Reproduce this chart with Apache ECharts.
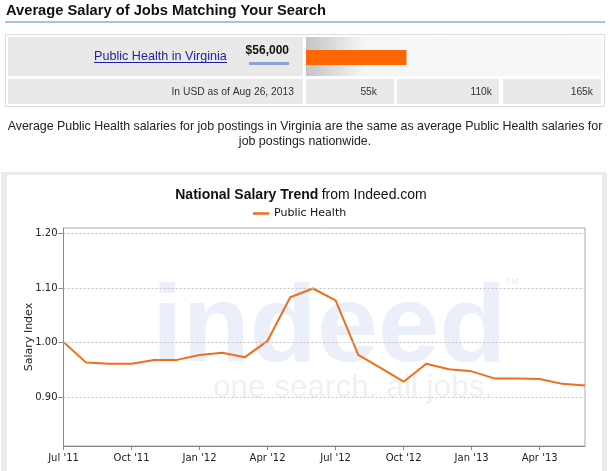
<!DOCTYPE html>
<html>
<head>
<meta charset="utf-8">
<script src="https://cdn.jsdelivr.net/npm/echarts@6/dist/echarts.min.js"></script>
<style>
html,body{margin:0;padding:0;background:#fff;}
#c{width:610px;height:471px;}
</style>
</head>
<body>
<div id="c"></div>
<script>
// ---- data ----
const salaryCategories = ['Public Health in Virginia'];
const salaryValues = [56000];
const salaryLabel = '$56,000';
const salaryScaleMax = 165000;
const salaryScaleLabels = ['55k', '110k', '165k'];
const months = ["Jul '11","Aug '11","Sep '11","Oct '11","Nov '11","Dec '11",
  "Jan '12","Feb '12","Mar '12","Apr '12","May '12","Jun '12",
  "Jul '12","Aug '12","Sep '12","Oct '12","Nov '12","Dec '12",
  "Jan '13","Feb '13","Mar '13","Apr '13","May '13","Jun '13"];
const trendValues = [1.001, 0.963, 0.961, 0.961, 0.968, 0.968,
  0.977, 0.981, 0.973, 1.003, 1.083, 1.099,
  1.077, 0.977, 0.953, 0.928, 0.961, 0.951,
  0.947, 0.934, 0.934, 0.933, 0.924, 0.921];
const yTickValues = [0.9, 1.0, 1.1, 1.2];
const yMin = 0.81, yMax = 1.21;

// ---- chart ----
const chart = echarts.init(document.getElementById('c'), null, {renderer: 'canvas'});
const AR = '"Liberation Sans", Arial, sans-serif';
const DJ = '"DejaVu Sans", sans-serif';
const orange = '#ee6e1b';

const cells = [
  {x: 8, w: 295}, {x: 306, w: 88}, {x: 397, w: 102}, {x: 503, w: 98}
];
const scaleLabelRight = [377, 492, 593];

const graphic = [
  // header title
  {type: 'text', x: 6, y: 11, z: -1, style: {text: 'Average Salary of Jobs Matching Your Search', font: 'bold 14.7px ' + AR, fill: '#111', verticalAlign: 'middle'}},
  {type: 'rect', z: -1, shape: {x: 5, y: 21, width: 600, height: 2}, style: {fill: '#a7c3e1'}},
  // salary box
  {type: 'rect', z: -2, shape: {x: 5.5, y: 34.5, width: 599, height: 72}, style: {fill: '#fff', stroke: '#dcdcdc', lineWidth: 1}},
  {type: 'rect', z: -1, shape: {x: 8, y: 37, width: 295, height: 39}, style: {fill: '#e9e9e9'}},
  {type: 'rect', z: -1, shape: {x: 306, y: 37, width: 296, height: 39}, style: {fill: {type: 'linear', x: 0, y: 0, x2: 1, y2: 0, colorStops: [{offset: 0, color: '#c4c4c4'}, {offset: 0.2, color: '#f6f6f6'}, {offset: 1, color: '#f7f7f7'}]}}},
  {type: 'text', x: 94, y: 56.5, z: 1, style: {text: salaryCategories[0], font: '12.6px ' + AR, fill: '#1f1fa3', verticalAlign: 'middle'}},
  {type: 'rect', z: 1, shape: {x: 94, y: 62, width: 133, height: 1}, style: {fill: '#1f1fa3'}},
  {type: 'text', x: 289, y: 50.5, z: 1, style: {text: salaryLabel, font: 'bold 12px ' + AR, fill: '#111', align: 'right', verticalAlign: 'middle'}},
  {type: 'rect', z: 1, shape: {x: 249, y: 62, width: 40, height: 3}, style: {fill: '#8aa4da'}},
  {type: 'text', x: 294, y: 92, z: 1, style: {text: 'In USD as of Aug 26, 2013', font: '10.3px ' + AR, fill: '#333', align: 'right', verticalAlign: 'middle'}},
  // paragraph
  {type: 'text', x: 305, y: 127, z: 1, style: {text: 'Average Public Health salaries for job postings in Virginia are the same as average Public Health salaries for', font: '12.4px ' + AR, fill: '#222', align: 'center', verticalAlign: 'middle'}},
  {type: 'text', x: 305, y: 142, z: 1, style: {text: 'job postings nationwide.', font: '12.4px ' + AR, fill: '#222', align: 'center', verticalAlign: 'middle'}},
  // chart panel
  {type: 'rect', z: -3, shape: {x: 1, y: 172, width: 606, height: 299}, style: {fill: '#ebebeb'}},
  {type: 'rect', z: -2, shape: {x: 7, y: 175, width: 595, height: 296}, style: {fill: '#fff'}},
  // watermark
  {type: 'text', x: 152, y: 331, z: -1, style: {text: 'indeed', font: 'bold 110px ' + AR, fill: '#ebeffa', verticalAlign: 'middle'}},
  {type: 'text', x: 213, y: 388, z: -1, style: {text: 'one search. all jobs.', font: '31.5px ' + AR, fill: '#f0f0f0', verticalAlign: 'middle'}},
  {type: 'text', x: 505, y: 284, z: -1, style: {text: '\u2122', font: '14px ' + AR, fill: '#eeeeee', verticalAlign: 'middle'}},
  // chart title
  {type: 'text', x: 301, y: 195, z: 1, style: {text: '{b|National Salary Trend} {r|from Indeed.com}', align: 'center', verticalAlign: 'middle', rich: {b: {font: 'bold 14px ' + AR, fill: '#111'}, r: {font: '14px ' + AR, fill: '#111'}}}}
];
cells.forEach(c => graphic.push({type: 'rect', z: -1, shape: {x: c.x, y: 79, width: c.w, height: 25}, style: {fill: '#e9e9e9'}}));
salaryScaleLabels.forEach((t, i) => graphic.push({type: 'text', x: scaleLabelRight[i], y: 92, z: 1, style: {text: t, font: '10.3px ' + AR, fill: '#333', align: 'right', verticalAlign: 'middle'}}));

const option = {
  animation: false,
  graphic: graphic,
  legend: {
    data: ['Public Health'], left: 253, top: 208, padding: 0, icon: 'rect', itemWidth: 16, itemHeight: 2.5,
    textStyle: {fontFamily: DJ, fontSize: 11, color: '#111'}
  },
  grid: [
    {left: 306, top: 50, width: 296, height: 15, show: false},
    {left: 63.5, top: 228, width: 521.5, height: 218, show: true, borderColor: '#a9a9a9', borderWidth: 1, backgroundColor: 'transparent'}
  ],
  xAxis: [
    {gridIndex: 0, type: 'value', min: 0, max: salaryScaleMax, show: false},
    {gridIndex: 1, type: 'category', data: months, boundaryGap: false,
      axisLine: {lineStyle: {color: '#888'}},
      axisTick: {interval: 2, length: 4, lineStyle: {color: '#888'}},
      axisLabel: {interval: 2, margin: 7, fontFamily: DJ, fontSize: 10, color: '#222'},
      splitLine: {show: false}}
  ],
  yAxis: [
    {gridIndex: 0, type: 'category', data: salaryCategories, show: false},
    {gridIndex: 1, type: 'value', min: yMin, max: yMax,
      name: 'Salary Index', nameLocation: 'middle', nameGap: 29, nameRotate: 90, nameMoveOverlap: false,
      nameTextStyle: {fontFamily: DJ, fontSize: 11, color: '#222'},
      axisLine: {show: true, lineStyle: {color: '#888'}},
      axisTick: {show: true, customValues: yTickValues, length: 5, lineStyle: {color: '#888'}},
      axisLabel: {customValues: yTickValues, margin: 6, fontFamily: DJ, fontSize: 10, color: '#222', formatter: v => v.toFixed(2)},
      splitLine: {show: false}}
  ],
  series: [
    {type: 'bar', name: 'Salary', xAxisIndex: 0, yAxisIndex: 0, data: salaryValues, barWidth: 15, itemStyle: {color: '#ff6600'}, silent: true},
    {type: 'line', name: 'Public Health', xAxisIndex: 1, yAxisIndex: 1, data: trendValues, symbol: 'none',
      lineStyle: {color: orange, width: 2}, itemStyle: {color: orange},
      markLine: {silent: true, symbol: ['none', 'none'], label: {show: false},
        lineStyle: {type: [2, 2], color: '#c2c2c2', width: 1},
        data: yTickValues.map(v => ({yAxis: v}))}}
  ]
};
chart.setOption(option);
</script>
</body>
</html>
